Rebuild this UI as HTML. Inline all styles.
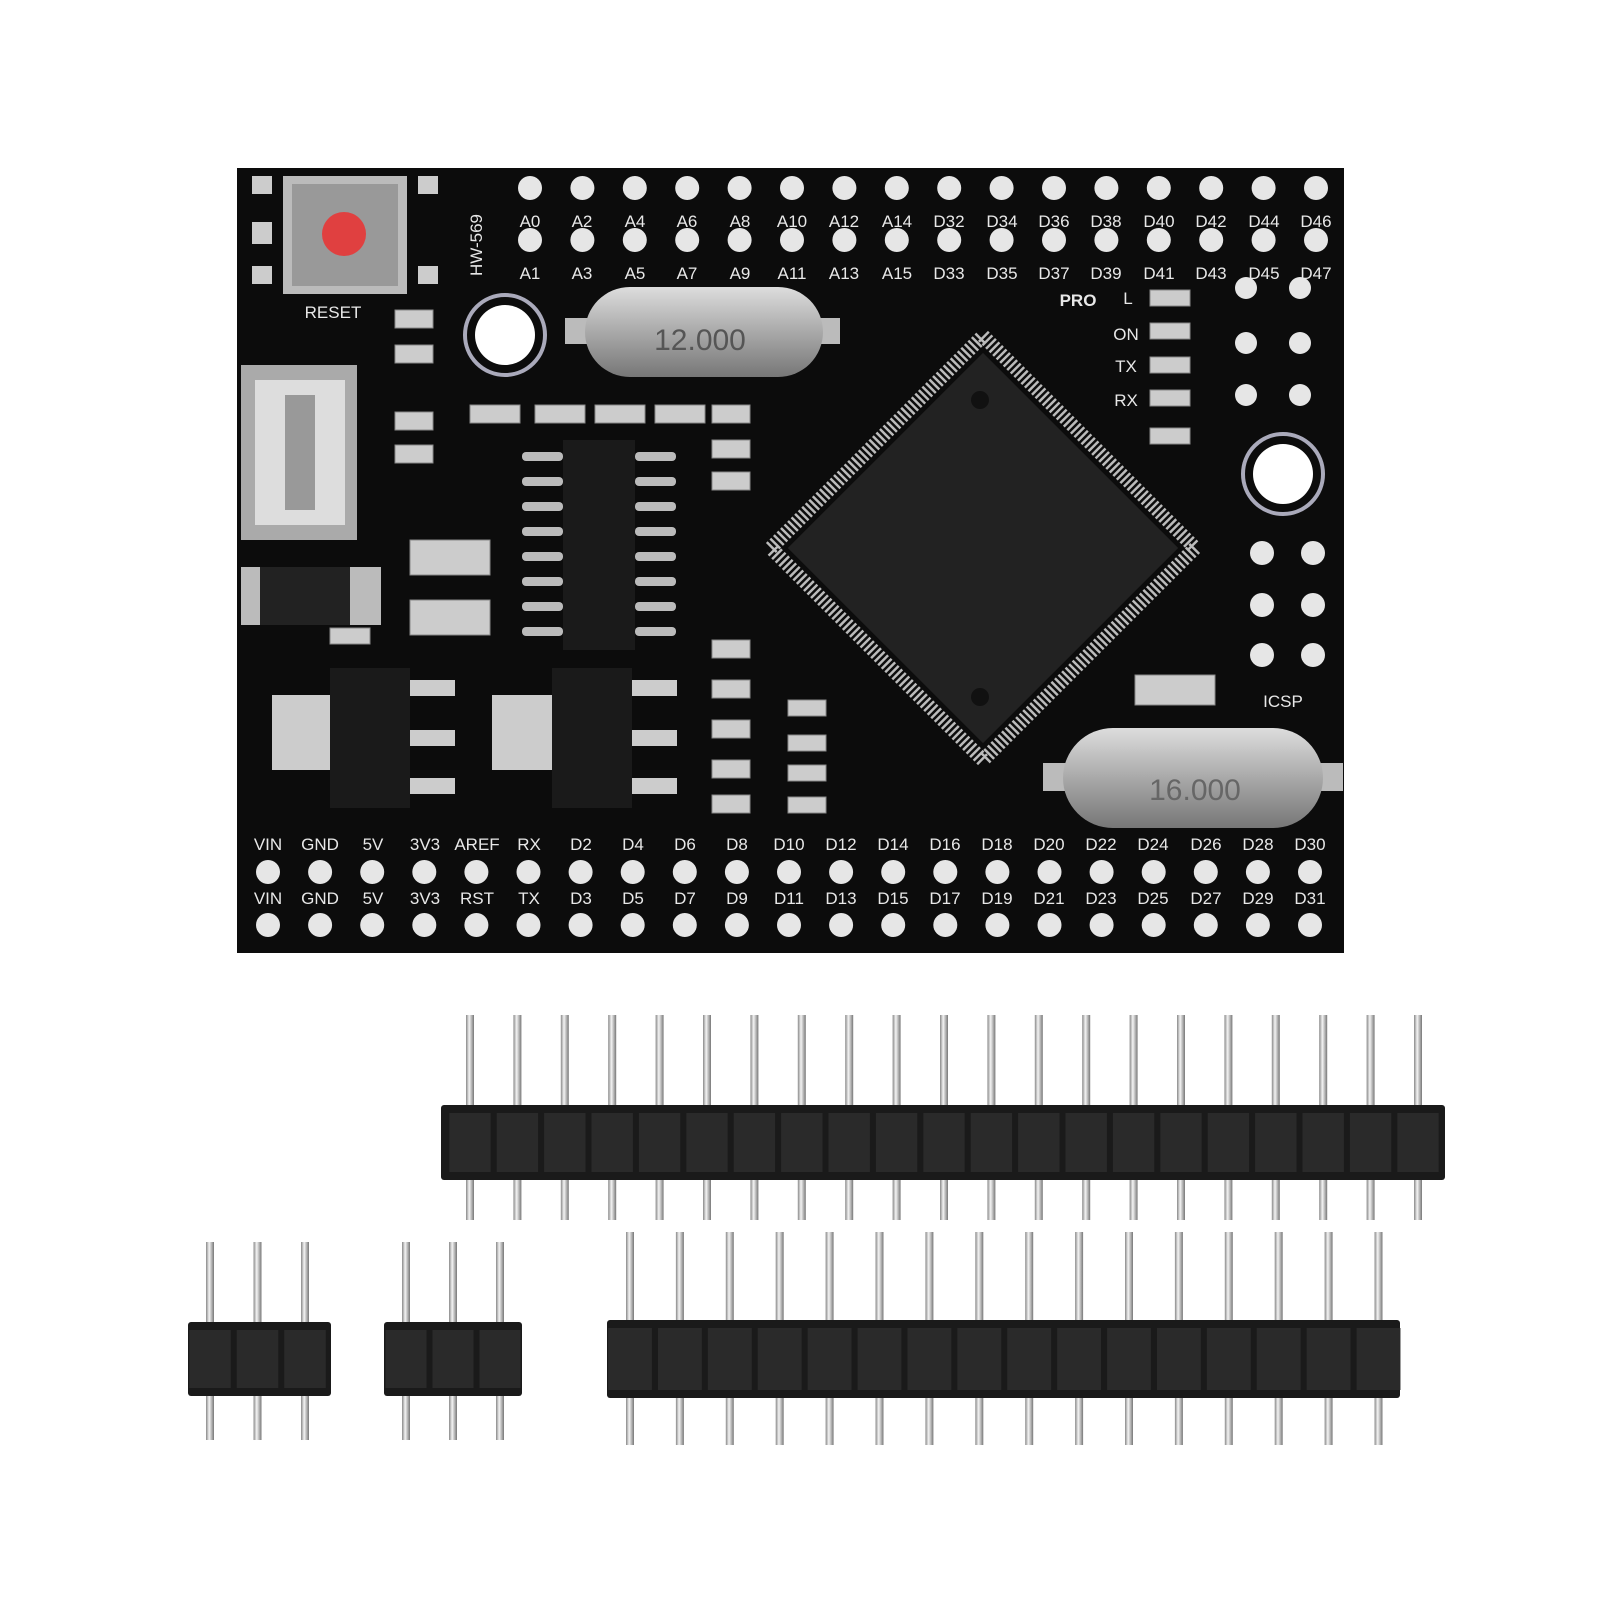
<!DOCTYPE html>
<html><head><meta charset="utf-8"><style>
html,body{margin:0;padding:0;background:#fff;}
svg{display:block;}
.l{font-family:"Liberation Sans",sans-serif;font-size:17px;fill:#e8e8e8;text-anchor:middle;}
.s{font-family:"Liberation Sans",sans-serif;font-size:9px;fill:#333;text-anchor:middle;}
</style></head><body>
<svg id="s" width="1601" height="1601" viewBox="0 0 1601 1601" xmlns="http://www.w3.org/2000/svg">
<defs>
<linearGradient id="pin" x1="0" x2="1"><stop offset="0" stop-color="#888"/><stop offset=".4" stop-color="#f4f4f4"/><stop offset="1" stop-color="#777"/></linearGradient>
<linearGradient id="xt" x1="0" y1="0" x2="0" y2="1"><stop offset="0" stop-color="#ddd"/><stop offset=".5" stop-color="#a9a9a9"/><stop offset="1" stop-color="#777"/></linearGradient>
</defs>
<rect x="237" y="168" width="1107" height="785" fill="#0c0c0c"/>
<g id="holes" fill="#e6e6e6"></g>
<!-- top labels -->
<g class="l">
<text x="530" y="227">A0</text><text x="582" y="227">A2</text><text x="635" y="227">A4</text><text x="687" y="227">A6</text><text x="740" y="227">A8</text><text x="792" y="227">A10</text><text x="844" y="227">A12</text><text x="897" y="227">A14</text><text x="949" y="227">D32</text><text x="1002" y="227">D34</text><text x="1054" y="227">D36</text><text x="1106" y="227">D38</text><text x="1159" y="227">D40</text><text x="1211" y="227">D42</text><text x="1264" y="227">D44</text><text x="1316" y="227">D46</text>
<text x="530" y="279">A1</text><text x="582" y="279">A3</text><text x="635" y="279">A5</text><text x="687" y="279">A7</text><text x="740" y="279">A9</text><text x="792" y="279">A11</text><text x="844" y="279">A13</text><text x="897" y="279">A15</text><text x="949" y="279">D33</text><text x="1002" y="279">D35</text><text x="1054" y="279">D37</text><text x="1106" y="279">D39</text><text x="1159" y="279">D41</text><text x="1211" y="279">D43</text><text x="1264" y="279">D45</text><text x="1316" y="279">D47</text>
<text x="268" y="850">VIN</text><text x="320" y="850">GND</text><text x="373" y="850">5V</text><text x="425" y="850">3V3</text><text x="477" y="850">AREF</text><text x="529" y="850">RX</text><text x="581" y="850">D2</text><text x="633" y="850">D4</text><text x="685" y="850">D6</text><text x="737" y="850">D8</text><text x="789" y="850">D10</text><text x="841" y="850">D12</text><text x="893" y="850">D14</text><text x="945" y="850">D16</text><text x="997" y="850">D18</text><text x="1049" y="850">D20</text><text x="1101" y="850">D22</text><text x="1153" y="850">D24</text><text x="1206" y="850">D26</text><text x="1258" y="850">D28</text><text x="1310" y="850">D30</text>
<text x="268" y="904">VIN</text><text x="320" y="904">GND</text><text x="373" y="904">5V</text><text x="425" y="904">3V3</text><text x="477" y="904">RST</text><text x="529" y="904">TX</text><text x="581" y="904">D3</text><text x="633" y="904">D5</text><text x="685" y="904">D7</text><text x="737" y="904">D9</text><text x="789" y="904">D11</text><text x="841" y="904">D13</text><text x="893" y="904">D15</text><text x="945" y="904">D17</text><text x="997" y="904">D19</text><text x="1049" y="904">D21</text><text x="1101" y="904">D23</text><text x="1153" y="904">D25</text><text x="1206" y="904">D27</text><text x="1258" y="904">D29</text><text x="1310" y="904">D31</text>
<text x="333" y="318">RESET</text>
<text x="1078" y="306" style="font-weight:bold">PRO</text><text x="1128" y="304">L</text><text x="1126" y="340">ON</text><text x="1126" y="372">TX</text><text x="1126" y="406">RX</text>
<text x="1283" y="707">ICSP</text>
<text x="482" y="245" transform="rotate(-90 482 245)">HW-569</text>
</g>
<!-- reset button -->
<rect x="283" y="176" width="124" height="118" fill="#bbb"/><rect x="292" y="184" width="106" height="102" fill="#999"/>
<circle cx="344" cy="234" r="22" fill="#e04040"/>
<rect x="252" y="176" width="20" height="18" fill="#ccc"/><rect x="252" y="222" width="20" height="22" fill="#ccc"/><rect x="252" y="266" width="20" height="18" fill="#ccc"/>
<rect x="418" y="176" width="20" height="18" fill="#ccc"/><rect x="418" y="266" width="20" height="18" fill="#ccc"/>
<!-- mount holes -->
<circle cx="505" cy="335" r="40" fill="none" stroke="#aab" stroke-width="4"/><circle cx="505" cy="335" r="30" fill="#fff"/>
<circle cx="1283" cy="474" r="40" fill="none" stroke="#aab" stroke-width="4"/><circle cx="1283" cy="474" r="30" fill="#fff"/>
<!-- crystals -->
<rect x="565" y="318" width="275" height="26" fill="#bbb"/>
<rect x="585" y="287" width="238" height="90" rx="45" fill="url(#xt)"/>
<text x="700" y="350" style="font-family:'Liberation Sans';font-size:30px;fill:#555" text-anchor="middle">12.000</text>
<rect x="1043" y="763" width="300" height="28" fill="#bbb"/>
<rect x="1063" y="728" width="260" height="100" rx="50" fill="url(#xt)"/>
<text x="1195" y="800" style="font-family:'Liberation Sans';font-size:30px;fill:#666" text-anchor="middle">16.000</text>
<!-- usb -->
<rect x="241" y="365" width="116" height="175" fill="#aaa"/><rect x="255" y="380" width="90" height="145" fill="#ddd"/>
<rect x="285" y="395" width="30" height="115" fill="#999"/>
<!-- M7 -->
<rect x="241" y="567" width="140" height="58" fill="#bbb"/><rect x="260" y="567" width="90" height="58" fill="#222"/>
<!-- regulators -->
<rect x="272" y="695" width="64" height="75" fill="#ccc"/><rect x="330" y="668" width="80" height="140" fill="#1a1a1a"/>
<rect x="410" y="680" width="45" height="16" fill="#ccc"/><rect x="410" y="730" width="45" height="16" fill="#ccc"/><rect x="410" y="778" width="45" height="16" fill="#ccc"/>
<rect x="492" y="695" width="64" height="75" fill="#ccc"/><rect x="552" y="668" width="80" height="140" fill="#1a1a1a"/>
<rect x="632" y="680" width="45" height="16" fill="#ccc"/><rect x="632" y="730" width="45" height="16" fill="#ccc"/><rect x="632" y="778" width="45" height="16" fill="#ccc"/>
<!-- SOIC -->
<rect x="563" y="440" width="72" height="210" fill="#1a1a1a"/>
<g id="soic" fill="#bbb"></g>
<!-- misc smd -->
<g fill="#ccc" stroke="#888">
<rect x="395" y="310" width="38" height="18"/><rect x="395" y="345" width="38" height="18"/>
<rect x="395" y="412" width="38" height="18"/><rect x="395" y="445" width="38" height="18"/>
<rect x="410" y="540" width="80" height="35"/><rect x="410" y="600" width="80" height="35"/>
<rect x="470" y="405" width="50" height="18"/><rect x="535" y="405" width="50" height="18"/><rect x="595" y="405" width="50" height="18"/><rect x="655" y="405" width="50" height="18"/>
<rect x="712" y="405" width="38" height="18"/><rect x="712" y="440" width="38" height="18"/><rect x="712" y="472" width="38" height="18"/>
<rect x="712" y="640" width="38" height="18"/><rect x="712" y="680" width="38" height="18"/><rect x="712" y="720" width="38" height="18"/><rect x="712" y="760" width="38" height="18"/><rect x="712" y="795" width="38" height="18"/>
<rect x="788" y="700" width="38" height="16"/><rect x="788" y="735" width="38" height="16"/><rect x="788" y="765" width="38" height="16"/><rect x="788" y="797" width="38" height="16"/>
<rect x="1150" y="290" width="40" height="16"/><rect x="1150" y="323" width="40" height="16"/><rect x="1150" y="357" width="40" height="16"/><rect x="1150" y="390" width="40" height="16"/><rect x="1150" y="428" width="40" height="16"/>
<rect x="1135" y="675" width="80" height="30"/><rect x="330" y="628" width="40" height="16"/>
</g>
<!-- chip -->
<g transform="rotate(45 983 548)">
<rect x="833" y="398" width="300" height="300" fill="none" stroke="#bbb" stroke-width="14" stroke-dasharray="2.5 2.5"/>
<rect x="845" y="410" width="276" height="276" fill="#222"/>
</g>
<circle cx="980" cy="400" r="9" fill="#111"/><circle cx="980" cy="697" r="9" fill="#111"/>
<!-- ICSP holes -->
<g fill="#e6e6e6"><circle cx="1262" cy="553" r="12"/><circle cx="1313" cy="553" r="12"/><circle cx="1262" cy="605" r="12"/><circle cx="1313" cy="605" r="12"/><circle cx="1262" cy="655" r="12"/><circle cx="1313" cy="655" r="12"/>
<circle cx="1300" cy="288" r="11"/><circle cx="1246" cy="288" r="11"/><circle cx="1300" cy="343" r="11"/><circle cx="1246" cy="343" r="11"/><circle cx="1300" cy="395" r="11"/><circle cx="1246" cy="395" r="11"/></g>
<g id="hdr"></g>
</svg>
<script>
var NS="http://www.w3.org/2000/svg";
function el(p,t,a){var e=document.createElementNS(NS,t);for(var k in a)e.setAttribute(k,a[k]);p.appendChild(e);return e;}
var h=document.getElementById("holes");
for(var i=0;i<16;i++){var x=530+i*52.4;el(h,"circle",{cx:x,cy:188,r:12});el(h,"circle",{cx:x,cy:240,r:12});}
for(var i=0;i<21;i++){var x=268+i*52.1;el(h,"circle",{cx:x,cy:872,r:12});el(h,"circle",{cx:x,cy:925,r:12});}
var so=document.getElementById("soic");
for(var i=0;i<8;i++){el(so,"rect",{x:522,y:452+i*25,width:41,height:9,rx:4});el(so,"rect",{x:635,y:452+i*25,width:41,height:9,rx:4});}
var hd=document.getElementById("hdr");
function header(x0,x1,yt,yb,n,px0,dp,top,bot){
 for(var i=0;i<n;i++){var x=px0+i*dp;el(hd,"rect",{x:x-4,y:top,width:8,height:bot-top,fill:"url(#pin)"});}
 el(hd,"rect",{x:x0,y:yt,width:x1-x0,height:yb-yt,fill:"#1a1a1a",rx:3});
 for(var i=0;i<n;i++){var x=px0+i*dp;el(hd,"rect",{x:x-dp/2+3,y:yt+8,width:dp-6,height:yb-yt-16,fill:"#2a2a2a"});}
}
header(441,1445,1105,1180,21,470,47.4,1015,1220);
header(188,331,1322,1396,3,210,47.5,1242,1440);
header(384,522,1322,1396,3,406,47,1242,1440);
header(607,1400,1320,1398,16,630,49.9,1232,1445);
</script>
</body></html>
